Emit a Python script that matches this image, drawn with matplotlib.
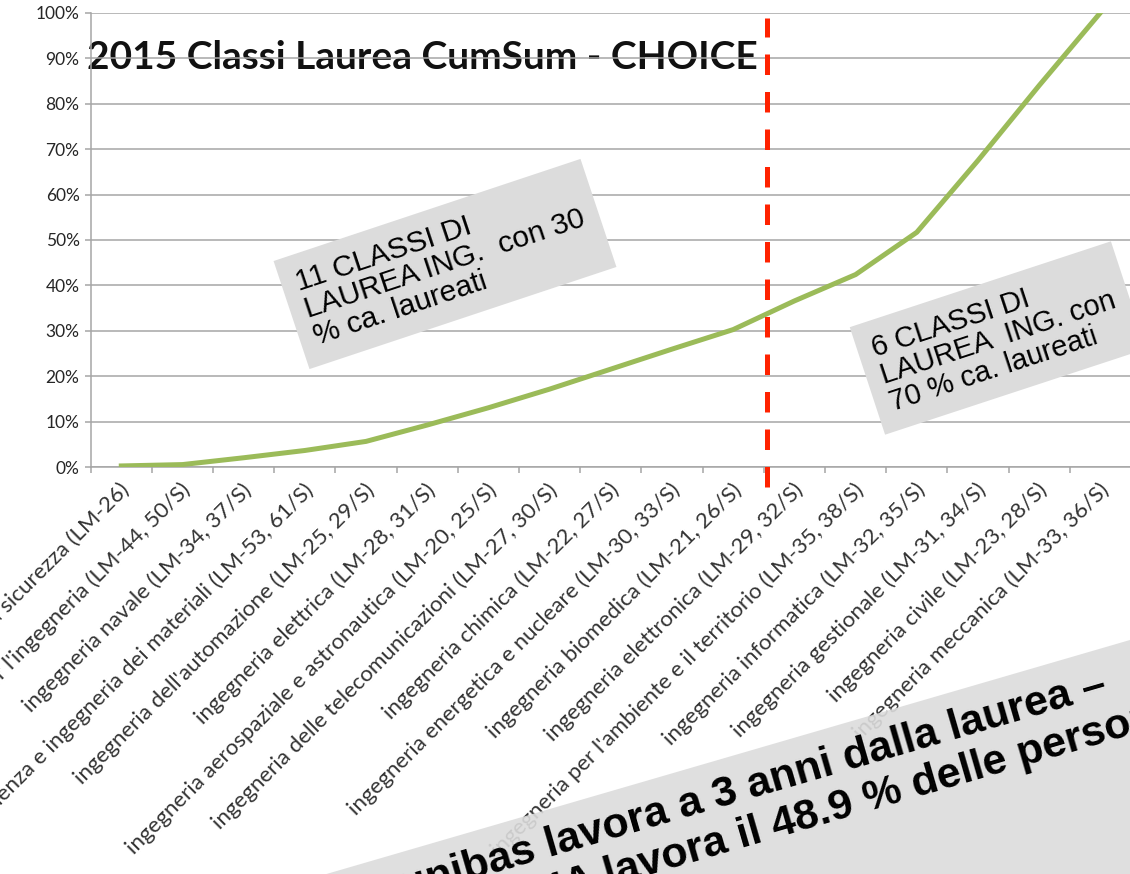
import matplotlib
matplotlib.use("Agg")
import matplotlib.pyplot as plt
import matplotlib.transforms as mtransforms
from matplotlib.patches import Polygon
from matplotlib.ticker import FuncFormatter

# classi di laurea magistrale, ordinate per numero di laureati
categories = [
    "ingegneria della sicurezza (LM-26)",
    "modellistica matematico-fisica per l'ingegneria (LM-44, 50/S)",
    "ingegneria navale (LM-34, 37/S)",
    "scienza e ingegneria dei materiali (LM-53, 61/S)",
    "ingegneria dell'automazione (LM-25, 29/S)",
    "ingegneria elettrica (LM-28, 31/S)",
    "ingegneria aerospaziale e astronautica (LM-20, 25/S)",
    "ingegneria delle telecomunicazioni (LM-27, 30/S)",
    "ingegneria chimica (LM-22, 27/S)",
    "ingegneria energetica e nucleare (LM-30, 33/S)",
    "ingegneria biomedica (LM-21, 26/S)",
    "ingegneria elettronica (LM-29, 32/S)",
    "ingegneria per l'ambiente e il territorio (LM-35, 38/S)",
    "ingegneria informatica (LM-32, 35/S)",
    "ingegneria gestionale (LM-31, 34/S)",
    "ingegneria civile (LM-23, 28/S)",
    "ingegneria meccanica (LM-33, 36/S)",
]
cum_pct = [0.3, 0.6, 2.1, 3.7, 5.7, 9.3, 13.1, 17.2, 21.6, 26.0,
           30.3, 36.6, 42.4, 51.7, 67.5, 84.0, 100.0]
y_ticks = list(range(0, 101, 10))
split_index = 10  # ultima classe del gruppo "30 %"

title = "2015 Classi Laurea CumSum - CHOICE"
note_left = "11 CLASSI DI\nLAUREA ING.  con 30\n% ca. laureati"
note_right = "6 CLASSI DI\nLAUREA  ING. con\n70 % ca. laureati"
banner_1 = "unibas lavora a 3 anni dalla laurea \u2013"
banner_2 = "ITALIA lavora il 48.9 % delle persone"

W, H = 1130, 874
fig = plt.figure(figsize=(W / 100, H / 100), dpi=100)
ax = fig.add_axes([90.7 / W, 1 - 467.3 / H, (1131 - 90.7) / W, (467.3 - 12.7) / H])

x = range(len(categories))
ax.plot(x, cum_pct, color="#9BBB59", lw=3.6, zorder=3, solid_joinstyle="round")

ax.set_xlim(-0.5, len(categories) - 0.5)
ax.set_ylim(0, 100)
ax.set_yticks(y_ticks)
ax.yaxis.set_major_formatter(FuncFormatter(lambda v, p: f"{v:.0f}%"))

# tacche ai bordi delle categorie, etichette al centro
ax.set_xticks([i - 0.5 for i in range(len(categories) + 1)])
ax.set_xticklabels([])
ax.set_xticks(list(x), minor=True)
ax.set_xticklabels(categories, minor=True, rotation=45, ha="right", va="center",
                   rotation_mode="anchor", fontsize=16, family="Lato", color="#333333")
ax.tick_params(axis="x", which="minor", length=0, pad=14)
ax.tick_params(axis="x", which="major", length=4.5, width=1.1, color="#A6A6A6", direction="out")
ax.tick_params(axis="y", length=4.5, width=1.1, color="#A6A6A6", pad=3.5,
               labelsize=12.5, labelcolor="#262626")
for lab in ax.get_yticklabels():
    lab.set_family("Lato")
offset = mtransforms.ScaledTranslation(5 / 100, 0, fig.dpi_scale_trans)
for lab in ax.xaxis.get_minorticklabels():
    lab.set_transform(lab.get_transform() + offset)

ax.yaxis.grid(True, color="#A6A6A6", lw=1.1)
ax.set_axisbelow(False)
for side in ["top", "right"]:
    ax.spines[side].set_visible(False)
for side in ["left", "bottom"]:
    ax.spines[side].set_color("#A6A6A6")
    ax.spines[side].set_linewidth(1.1)

# titolo sotto la griglia
ax.text(87 / W, 1 - 69 / H, title, transform=fig.transFigure, zorder=1,
        fontsize=28, fontweight="bold", family="Lato", color="#111111")

# linea di separazione tra i due gruppi
ax.axvline(split_index + 0.55, ymin=-0.043, ymax=0.988, clip_on=False,
           color="#FF2200", lw=3.6, linestyle=(0, (4.1, 3.4)), zorder=4)

box = dict(boxstyle="square,pad=0.5", fc="#DCDCDC", ec="none")
fig.text(445 / W, 1 - 264 / H, note_left, rotation=18.4, rotation_mode="anchor",
         ha="center", va="center", multialignment="left", fontsize=21.5,
         family="Liberation Sans", linespacing=1.0, bbox=box)
fig.text(998 / W, 1 - 338 / H, note_right, rotation=18.2, rotation_mode="anchor",
         ha="center", va="center", multialignment="left", fontsize=21,
         family="Liberation Sans", linespacing=1.0, bbox=box)

# riquadro in basso
pts = [(300, 881.7), (1200, 619.6), (1200, 1000), (300, 1000)]
fig.patches.append(Polygon([(px / W, 1 - py / H) for px, py in pts], closed=True,
                           transform=fig.transFigure, fc="#DCDCDC", ec="none",
                           alpha=0.9, zorder=1))
for (bx, by), s in [((405, 899), banner_1), ((468, 927), banner_2)]:
    fig.text(bx / W, 1 - by / H, s, rotation=16.2, rotation_mode="anchor",
             ha="left", va="baseline", fontsize=31, fontweight="bold",
             family="Liberation Sans", color="black", zorder=2)

fig.savefig("out.png", dpi=100)
